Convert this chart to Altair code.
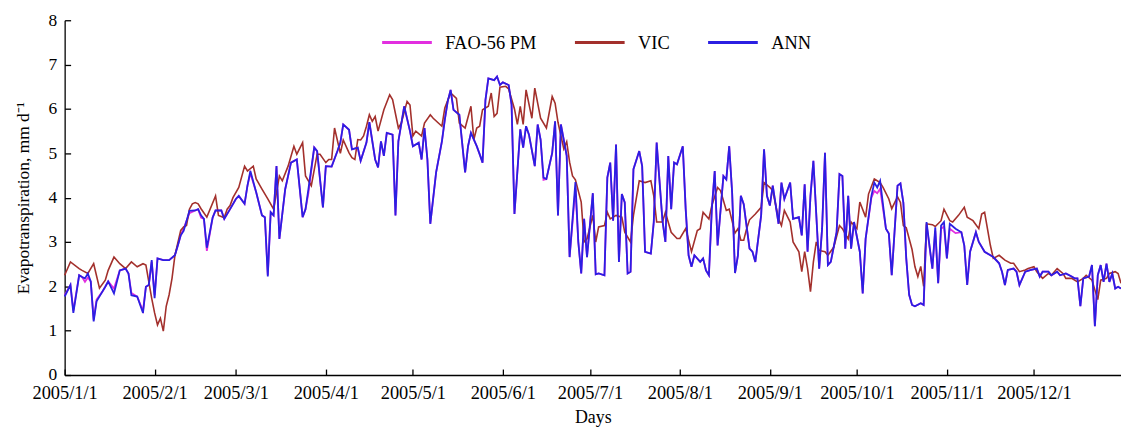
import altair as alt
import pandas as pd

# ---------------- data ----------------
# day-of-year offsets (0 = 2005-01-01) and daily evapotranspiration (mm/d)
ann_days = [
    0, 2, 3, 5, 6, 7, 8, 9, 10, 11,
    13, 14, 15, 17, 19, 21, 22, 23, 25, 27,
    28, 29, 30, 31, 32, 34, 36, 38, 39, 40,
    41, 43, 45, 46, 47, 48, 49, 51, 52, 54,
    55, 57, 59, 60, 62, 63, 64, 66, 68, 69,
    70, 71, 72, 73, 74, 76, 77, 78, 80, 82,
    83, 84, 86, 87, 89, 90, 92, 94, 95, 96,
    98, 99, 101, 102, 104, 105, 107, 108, 109, 110,
    111, 113, 114, 115, 117, 119, 120, 122, 123, 124,
    125, 126, 128, 130, 131, 132, 133, 134, 136, 138,
    139, 140, 142, 143, 144, 145, 146, 148, 149, 150,
    151, 153, 154, 155, 157, 158, 159, 160, 162, 163,
    164, 165, 166, 168, 169, 170, 171, 173, 174, 176,
    177, 178, 179, 180, 182, 183, 184, 186, 187, 188,
    189, 190, 191, 192, 193, 194, 195, 196, 198, 199,
    200, 202, 203, 204, 206, 207, 208, 209, 210, 211,
    213, 214, 215, 216, 217, 219, 220, 221, 222, 223,
    224, 225, 227, 228, 229, 230, 231, 232, 233, 234,
    236, 237, 238, 240, 241, 242, 243, 244, 246, 247,
    248, 250, 251, 253, 254, 255, 256, 257, 258, 260,
    261, 262, 263, 264, 266, 267, 268, 269, 270, 271,
    272, 274, 275, 276, 278, 279, 280, 281, 283, 284,
    285, 287, 288, 289, 290, 291, 292, 293, 295, 296,
    297, 299, 300, 301, 302, 303, 304, 305, 307, 309,
    310, 311, 312, 314, 315, 317, 319, 320, 322, 323,
    324, 325, 327, 328, 329, 331, 333, 335, 336, 337,
    339, 340, 342, 343, 345, 347, 348, 349, 350, 351,
    353, 354, 355, 356, 357, 358, 359, 360, 361, 362,
    363, 364,
]
ann_values = [
    1.77, 2.03, 1.40, 2.25, 2.21, 2.18, 2.29, 2.11, 1.21, 1.66,
    1.88, 1.99, 2.11, 1.84, 2.36, 2.40, 2.29, 1.80, 1.77, 1.40,
    1.99, 2.03, 2.59, 1.73, 2.63, 2.59, 2.59, 2.70, 2.92, 3.15,
    3.25, 3.70, 3.71, 3.74, 3.60, 3.52, 2.87, 3.55, 3.71, 3.71,
    3.52, 3.74, 3.97, 4.04, 3.86, 4.27, 4.60, 4.12, 3.60, 3.56,
    2.22, 3.67, 3.60, 4.71, 3.07, 4.19, 4.49, 4.79, 4.86, 3.56,
    3.74, 4.19, 5.13, 5.05, 3.78, 4.71, 4.70, 5.05, 5.24, 5.65,
    5.53, 5.09, 5.13, 4.83, 5.24, 5.70, 4.86, 4.68, 5.27, 4.94,
    5.46, 5.42, 3.60, 5.27, 6.06, 5.50, 5.16, 5.24, 4.86, 5.57,
    4.86, 3.41, 4.57, 5.27, 5.76, 6.17, 6.43, 5.98, 5.87, 4.57,
    5.16, 5.46, 5.16, 4.98, 4.79, 6.20, 6.69, 6.65, 6.73, 6.54,
    6.60, 6.54, 6.10, 3.63, 5.54, 5.13, 5.61, 5.42, 4.71, 5.65,
    5.31, 4.45, 4.42, 5.01, 5.72, 3.60, 5.65, 4.94, 2.66, 4.35,
    3.00, 2.29, 3.52, 2.66, 4.10, 2.27, 2.29, 2.25, 4.45, 4.79,
    3.48, 5.20, 2.55, 4.08, 3.89, 2.29, 2.33, 4.64, 5.05, 4.71,
    2.78, 2.74, 3.45, 5.24, 3.48, 3.00, 4.94, 3.74, 4.79, 4.75,
    5.16, 3.74, 2.70, 2.44, 2.70, 2.55, 2.63, 2.36, 2.25, 3.74,
    4.60, 2.92, 4.49, 4.41, 5.16, 4.12, 2.30, 2.70, 4.04, 3.85,
    2.85, 2.78, 2.55, 3.60, 5.09, 4.04, 3.82, 4.27, 3.41, 4.34,
    3.97, 4.34, 3.52, 3.56, 3.15, 4.30, 2.78, 4.04, 4.83, 2.40,
    3.30, 5.01, 2.48, 2.55, 3.22, 4.53, 4.49, 2.85, 4.04, 2.85,
    3.45, 2.78, 1.84, 3.07, 4.04, 4.34, 4.23, 4.38, 3.30, 3.19,
    2.25, 4.27, 4.32, 3.89, 2.63, 1.81, 1.58, 1.55, 1.62, 1.58,
    3.45, 2.40, 3.33, 2.07, 3.37, 3.45, 2.63, 3.41, 3.30, 3.22,
    2.92, 2.03, 2.78, 3.22, 3.00, 2.78, 2.70, 2.66, 2.52, 2.33,
    2.03, 2.37, 2.40, 2.33, 2.03, 2.33, 2.37, 2.40, 2.22, 2.33,
    2.33, 2.25, 2.33, 2.25, 2.29, 2.22, 2.18, 2.18, 1.55, 2.18,
    2.22, 2.48, 1.10, 2.25, 2.48, 2.10, 2.51, 2.10, 2.29, 1.95,
    1.99, 1.95,
]
# FAO-56 PM (same days as ANN, almost identical values)
fao_values = [
    1.80, 2.03, 1.45, 2.25, 2.21, 2.10, 2.20, 2.11, 1.25, 1.70,
    1.88, 1.99, 2.11, 1.95, 2.36, 2.40, 2.29, 1.85, 1.77, 1.45,
    1.99, 2.03, 2.55, 1.80, 2.63, 2.59, 2.59, 2.70, 2.92, 3.15,
    3.30, 3.65, 3.71, 3.74, 3.55, 3.52, 2.80, 3.55, 3.71, 3.71,
    3.52, 3.74, 3.97, 4.04, 3.86, 4.27, 4.55, 4.12, 3.60, 3.56,
    2.25, 3.67, 3.60, 4.71, 3.07, 4.19, 4.49, 4.79, 4.86, 3.56,
    3.74, 4.10, 5.13, 5.05, 3.78, 4.71, 4.70, 5.05, 5.24, 5.65,
    5.53, 5.09, 5.13, 4.83, 5.24, 5.70, 4.86, 4.68, 5.27, 4.94,
    5.46, 5.42, 3.60, 5.27, 6.06, 5.50, 5.16, 5.24, 4.86, 5.57,
    4.86, 3.41, 4.57, 5.27, 5.76, 6.17, 6.43, 5.98, 5.87, 4.57,
    5.16, 5.46, 5.16, 4.98, 4.79, 6.20, 6.69, 6.65, 6.73, 6.54,
    6.60, 6.54, 6.10, 3.63, 5.54, 5.13, 5.61, 5.42, 4.71, 5.65,
    5.31, 4.40, 4.42, 5.01, 5.72, 3.60, 5.65, 4.94, 2.66, 4.20,
    3.00, 2.29, 3.52, 2.66, 4.10, 2.27, 2.29, 2.25, 4.45, 4.79,
    3.48, 5.20, 2.55, 4.08, 3.89, 2.29, 2.33, 4.64, 5.05, 4.71,
    2.78, 2.74, 3.45, 5.24, 3.48, 3.00, 4.94, 3.74, 4.79, 4.75,
    5.16, 3.74, 2.70, 2.44, 2.70, 2.55, 2.63, 2.36, 2.25, 3.74,
    4.60, 2.92, 4.49, 4.41, 5.16, 4.12, 2.30, 2.70, 4.04, 3.85,
    2.85, 2.78, 2.55, 3.60, 5.09, 4.04, 3.82, 4.27, 3.41, 4.34,
    3.97, 4.34, 3.52, 3.56, 3.15, 4.30, 2.78, 4.04, 4.83, 2.40,
    3.30, 5.01, 2.48, 2.55, 3.22, 4.53, 4.49, 2.85, 4.04, 2.85,
    3.45, 2.78, 1.84, 3.07, 4.00, 4.15, 4.10, 4.20, 3.30, 3.19,
    2.25, 4.27, 4.32, 3.89, 2.63, 1.81, 1.58, 1.55, 1.62, 1.58,
    3.40, 2.40, 3.25, 2.07, 3.30, 3.35, 2.63, 3.30, 3.20, 3.22,
    2.92, 2.03, 2.78, 3.22, 3.00, 2.78, 2.70, 2.66, 2.52, 2.33,
    2.03, 2.37, 2.40, 2.33, 2.03, 2.33, 2.37, 2.40, 2.22, 2.33,
    2.33, 2.25, 2.33, 2.25, 2.29, 2.22, 2.18, 2.18, 1.55, 2.18,
    2.22, 2.48, 1.10, 2.25, 2.48, 2.10, 2.51, 2.10, 2.29, 1.95,
    1.99, 1.95,
]
vic_days = [
    0, 2, 5, 6, 8, 10, 12, 14, 15, 17,
    19, 21, 23, 25, 27, 28, 30, 31, 32, 33,
    34, 35, 36, 37, 38, 40, 41, 42, 43, 44,
    45, 46, 47, 49, 52, 53, 55, 56, 57, 58,
    60, 62, 63, 65, 66, 68, 70, 72, 74, 75,
    77, 79, 80, 82, 83, 85, 87, 88, 90, 91,
    92, 93, 95, 96, 98, 99, 100, 101, 102, 103,
    104, 105, 106, 107, 108, 110, 112, 113, 115, 116,
    118, 119, 120, 121, 123, 124, 126, 127, 130, 131,
    133, 135, 136, 138, 140, 141, 142, 143, 144, 146,
    147, 148, 149, 150, 152, 153, 155, 156, 157, 158,
    159, 161, 162, 164, 166, 168, 169, 170, 172, 173,
    174, 175, 176, 178, 179, 180, 182, 183, 184, 186,
    187, 188, 190, 192, 193, 195, 196, 198, 200, 202,
    203, 204, 206, 207, 209, 211, 212, 214, 216, 218,
    219, 220, 222, 223, 225, 226, 228, 229, 231, 232,
    233, 234, 235, 236, 238, 240, 241, 243, 244, 246,
    247, 248, 250, 251, 253, 254, 255, 256, 257, 258,
    259, 260, 262, 263, 265, 267, 268, 270, 271, 273,
    274, 276, 277, 279, 281, 282, 284, 285, 287, 288,
    289, 290, 292, 293, 294, 295, 296, 297, 299, 300,
    302, 303, 305, 306, 308, 310, 311, 313, 315, 316,
    317, 319, 320, 322, 324, 326, 327, 329, 331, 332,
    334, 335, 337, 339, 340, 342, 344, 345, 347, 349,
    351, 352, 354, 356, 357, 359, 360, 362, 363, 364,
]
vic_values = [
    2.25, 2.55, 2.40, 2.36, 2.29, 2.51, 1.96, 2.14, 2.36, 2.66,
    2.51, 2.40, 2.55, 2.44, 2.51, 2.48, 1.73, 1.40, 1.13, 1.28,
    0.99, 1.55, 1.81, 2.18, 2.70, 3.26, 3.34, 3.37, 3.74, 3.86,
    3.89, 3.86, 3.75, 3.56, 4.04, 3.60, 3.55, 3.74, 3.82, 4.00,
    4.23, 4.71, 4.60, 4.71, 4.42, 4.19, 3.97, 3.74, 4.49, 4.38,
    4.71, 5.16, 4.98, 5.24, 4.49, 4.27, 4.98, 4.98, 4.79, 4.86,
    4.86, 5.57, 5.00, 5.30, 5.01, 4.90, 4.86, 5.31, 5.30, 5.39,
    5.61, 5.87, 5.72, 5.83, 5.50, 5.98, 6.32, 6.21, 5.57, 5.68,
    6.17, 6.09, 5.39, 5.50, 5.39, 5.68, 5.87, 5.79, 5.61, 6.02,
    6.36, 6.24, 5.68, 5.57, 6.06, 5.31, 5.57, 5.61, 5.98, 6.06,
    6.36, 5.83, 5.90, 6.49, 6.51, 6.45, 6.00, 5.65, 6.06, 5.65,
    6.43, 5.79, 6.47, 5.79, 5.57, 6.28, 6.13, 5.70, 5.10, 5.26,
    4.80, 4.49, 4.40, 3.90, 3.00, 3.07, 3.60, 3.00, 3.34, 3.37,
    3.67, 3.52, 3.60, 3.56, 3.22, 3.00, 3.60, 4.38, 4.34, 4.38,
    4.04, 3.45, 3.45, 3.67, 3.22, 3.08, 3.08, 3.30, 2.78, 3.26,
    3.30, 3.67, 3.52, 3.82, 4.23, 4.16, 3.71, 3.74, 3.20, 3.30,
    3.04, 3.04, 3.30, 3.50, 3.63, 3.78, 4.34, 4.23, 4.16, 3.52,
    3.37, 3.71, 3.45, 3.00, 2.78, 2.33, 2.78, 2.40, 1.88, 2.55,
    3.00, 2.81, 2.78, 2.70, 2.88, 3.37, 3.30, 3.07, 3.45, 3.30,
    3.90, 3.56, 4.08, 4.42, 4.34, 4.23, 3.97, 3.75, 4.02, 3.89,
    3.37, 3.32, 2.83, 2.44, 2.22, 2.45, 2.00, 3.41, 3.39, 3.35,
    3.48, 3.74, 3.48, 3.45, 3.60, 3.78, 3.56, 3.48, 3.30, 3.63,
    3.67, 2.92, 2.63, 2.70, 2.59, 2.52, 2.52, 2.33, 2.37, 2.40,
    2.44, 2.33, 2.18, 2.29, 2.25, 2.40, 2.29, 2.18, 2.18, 2.10,
    2.18, 2.25, 2.14, 1.70, 2.14, 2.18, 2.29, 2.33, 2.29, 2.07,
]

series_names = ["FAO-56 PM", "VIC", "ANN"]
series_colors = ["#e22fe0", "#a3302c", "#2b1fe2"]
tick_months = [1, 2, 3, 4, 5, 6, 7, 8, 9, 10, 11, 12]
y_ticks = [0, 1, 2, 3, 4, 5, 6, 7, 8]

# ---------------- build the tables ----------------
start = pd.Timestamp("2005-01-01")


def make_frame(days, values, name):
    return pd.DataFrame({
        "date": [(start + pd.Timedelta(days=int(d))).strftime("%Y-%m-%dT00:00:00") for d in days],
        "et": values,
        "series": name,
    })


fao_df = make_frame(ann_days, fao_values, "FAO-56 PM")
vic_df = make_frame(vic_days, vic_values, "VIC")
ann_df = make_frame(ann_days, ann_values, "ANN")

W, H = 1063, 357
FONT = "Liberation Serif"

x_scale = alt.Scale(
    domain=[alt.DateTime(year=2005, month=1, date=1), alt.DateTime(year=2005, month=12, date=31)],
    nice=False,
)
y_scale = alt.Scale(domain=[0, 8], nice=False, zero=True)
tick_values = [alt.DateTime(year=2005, month=m, date=1) for m in tick_months]

color_scale = alt.Scale(domain=series_names, range=series_colors)
legend = alt.Legend(
    orient="none", legendX=318, legendY=-4, direction="horizontal", title=None,
    symbolType="stroke", symbolSize=2500, symbolStrokeWidth=3,
    labelFont=FONT, labelFontSize=18.5, labelColor="black", labelOffset=12,
    columnPadding=32, padding=0,
)

common_axis = dict(grid=False, domainColor="black", tickColor="black",
                   labelColor="black", titleColor="black", labelFont=FONT,
                   titleFont=FONT, titleFontWeight="normal", domainWidth=1.3, tickWidth=1.3)

x_main = alt.X("date:T", scale=x_scale, axis=alt.Axis(
    orient="bottom", values=tick_values, format="%Y/%-m/%-d", ticks=False,
    labelFontSize=18.5, labelPadding=9, labelFlush=False, title="Days",
    titleFontSize=18, titlePadding=6, labelOverlap=False, **common_axis))
y_main = alt.Y("et:Q", scale=y_scale, axis=alt.Axis(
    orient="left", values=y_ticks, format="d", ticks=False, labelFontSize=17.5,
    labelPadding=8, title="Evapotranspiration, mm d\u207b\u00b9", titleFontSize=17.5,
    titlePadding=16, **common_axis))

# inward-pointing ticks via opposite-side axes moved onto the plot edges
x_ticks_axis = alt.X("date:T", scale=x_scale, axis=alt.Axis(
    orient="top", offset=-H, values=tick_values, labels=False, domain=False,
    ticks=True, tickSize=6, title=None, **common_axis))
y_ticks_axis = alt.Y("et:Q", scale=y_scale, axis=alt.Axis(
    orient="right", offset=-W, values=y_ticks, labels=False, domain=False,
    ticks=True, tickSize=6, title=None, **common_axis))

color = alt.Color("series:N", scale=color_scale, legend=legend)

fao_layer = alt.Chart(fao_df).mark_line(strokeWidth=1.8).encode(x=x_main, y=y_main, color=color)
vic_layer = alt.Chart(vic_df).mark_line(strokeWidth=1.6).encode(
    x=alt.X("date:T", scale=x_scale, axis=None),
    y=alt.Y("et:Q", scale=y_scale, axis=None), color=color)
ann_layer = alt.Chart(ann_df).mark_line(strokeWidth=1.8).encode(x=x_ticks_axis, y=y_ticks_axis, color=color)

chart = alt.layer(fao_layer, vic_layer, ann_layer).resolve_axis(
    x="independent", y="independent"
).properties(
    width=W, height=H,
    autosize=alt.AutoSizeParams(type="none"),
    padding={"left": 57, "top": 11, "right": 0, "bottom": 54},
    background="white",
).configure_view(stroke=None)

chart.save("out.html", embed_options={"renderer": "svg", "actions": False})
